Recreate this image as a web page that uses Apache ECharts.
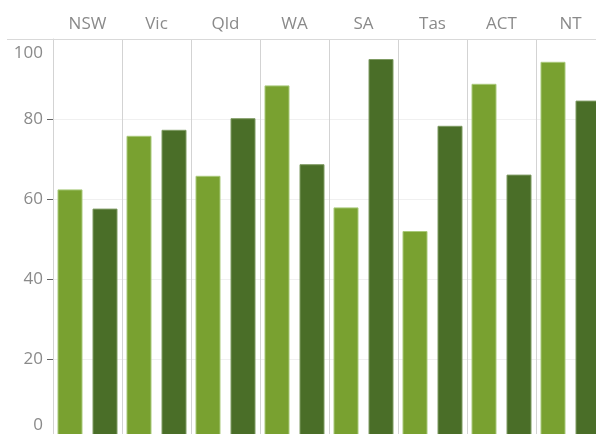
<!DOCTYPE html>
<html>
<head>
<meta charset="utf-8">
<script src="https://cdn.jsdelivr.net/npm/echarts@6/dist/echarts.min.js"></script>
<style>
  html, body { margin: 0; padding: 0; overflow: hidden; background: #fff; }
  #chart { width: 605px; height: 439px; }
</style>
</head>
<body>
<div id="chart"></div>
<script>
// states along the top
const states = ['NSW', 'Vic', 'Qld', 'WA', 'SA', 'Tas', 'ACT', 'NT'];
// light green series / dark green series
const seriesA = [62.4, 75.8, 65.8, 88.4, 57.9, 52.0, 88.8, 94.3];
const seriesB = [57.6, 77.3, 80.2, 68.7, 95.0, 78.3, 66.1, 84.6];
const yTicks = [0, 20, 40, 60, 80, 100];

const lightColor = '#79a130';
const darkColor = '#4a6e28';
const labelFont = '"Open Sans", "Noto Sans", sans-serif';

const chart = echarts.init(document.getElementById('chart'));

chart.setOption({
    animation: false,
    grid: {
        left: 53,
        right: 0,
        top: 39,
        bottom: 0,
        containLabel: false
    },
    xAxis: {
        type: 'category',
        position: 'top',
        data: states,
        axisLine: { show: false },
        axisTick: { show: false },
        axisLabel: {
            color: '#8a8a8a',
            fontSize: 17,
            fontFamily: labelFont,
            margin: 6
        },
        splitLine: {
            show: true,
            lineStyle: { color: '#d3d3d3', width: 1 }
        }
    },
    yAxis: {
        type: 'value',
        min: yTicks[0],
        max: yTicks[yTicks.length - 1],
        interval: 20,
        axisLine: { show: true, lineStyle: { color: '#d3d3d3' } },
        axisTick: { show: true, length: 6, lineStyle: { color: '#666' } },
        axisLabel: {
            color: '#8a8a8a',
            fontSize: 17,
            fontFamily: labelFont,
            margin: 10,
            padding: [6, 0, 5, 0],
            verticalAlignMaxLabel: 'top',
            verticalAlignMinLabel: 'bottom'
        },
        splitLine: {
            show: true,
            lineStyle: { color: '#f0f0f0' }
        }
    },
    graphic: [{
        type: 'line',
        shape: { x1: 7, y1: 39.5, x2: 605, y2: 39.5 },
        style: { stroke: '#d9d9d9', lineWidth: 1 },
        z: 10
    }],
    series: [
        {
            type: 'bar',
            data: seriesA,
            barWidth: 25,
            barGap: '40%',
            itemStyle: { color: lightColor, borderColor: '#a9c97a', borderWidth: 1 }
        },
        {
            type: 'bar',
            data: seriesB,
            barWidth: 25,
            itemStyle: { color: darkColor, borderColor: '#7f9b63', borderWidth: 1 }
        }
    ]
});
</script>
</body>
</html>
